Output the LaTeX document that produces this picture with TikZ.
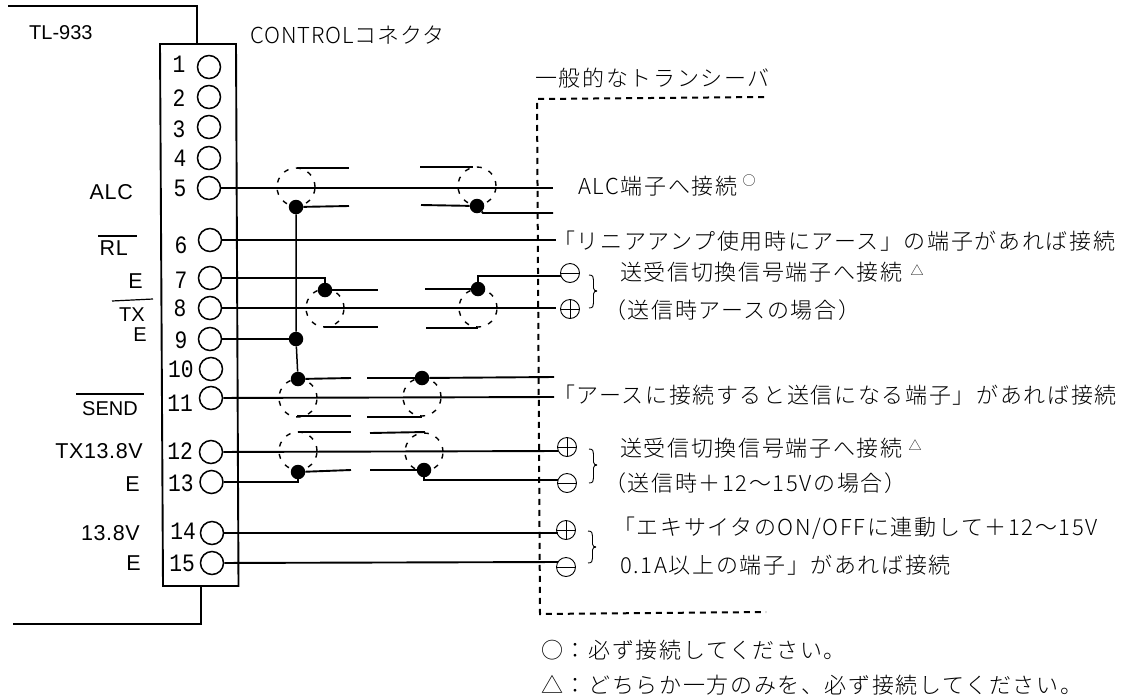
\documentclass[tikz,border=0pt]{standalone}
\usepackage{fontspec}
\setmainfont{Liberation Sans}
\newfontfamily\jpfont[LetterSpace=7.5]{Noto Sans CJK JP Light}
\newfontfamily\jpnarrow[LetterSpace=4]{Noto Sans CJK JP Light}
\newfontfamily\jpsmall{Noto Sans CJK JP Light}
\newfontfamily\pinfont{Liberation Mono}
\newfontfamily\latfont[LetterSpace=3]{Liberation Sans}
\newfontfamily\latplain{Liberation Sans}
% brace half: x, outer end y, tip y, direction (1 down, -1 up)
\newcommand{\rbr}[4]{%
  \draw[thin line] (#1,#2) .. controls (#1+4,#2) and (#1+4.5,#2+#4*2) .. (#1+4.5,#2+#4*5)
    -- (#1+4.5,#3-#4*3) .. controls (#1+4.5,#3-#4*1) and (#1+6,#3) .. (#1+8,#3);
}
\tikzset{
  wire/.style={line width=1.9pt},
  thin line/.style={line width=0.9pt},
  over/.style={line width=1.2pt},
  pin/.style={circle,draw,line width=1.5pt,minimum size=23pt,inner sep=0pt},
  dot/.style={circle,fill=black,minimum size=14.5pt,inner sep=0pt},
  shield/.style={circle,draw,line width=1.4pt,dash pattern=on 5pt off 7.5pt,minimum size=38pt,inner sep=0pt},
  termp/.style={circle,draw,line width=0.9pt,minimum size=19pt,inner sep=0pt,
    path picture={\draw[line width=0.9pt] (path picture bounding box.west) -- (path picture bounding box.east)
      (path picture bounding box.north) -- (path picture bounding box.south);}},
  termm/.style={circle,draw,line width=0.9pt,minimum size=19pt,inner sep=0pt,
    path picture={\draw[line width=0.9pt] (path picture bounding box.west) -- (path picture bounding box.east);}},
  jptext/.style={anchor=base west,inner sep=0pt,font=\fontsize{22}{24}\selectfont\jpfont},
  lat/.style={anchor=base east,inner sep=0pt,font=\fontsize{21.5}{23}\selectfont\latfont},
  latsm/.style={anchor=base east,inner sep=0pt,font=\fontsize{20}{22}\selectfont\latplain},
  digit/.style={inner sep=0pt,font=\fontsize{25}{27}\selectfont\pinfont},
  mini/.style={inner sep=0pt,font=\fontsize{13}{14}\selectfont\jpsmall},
  boxdash/.style={line width=2pt,dash pattern=on 6pt off 5pt},
}
\begin{document}
\begin{tikzpicture}[x=1pt,y=-1pt]
\useasboundingbox (0,0) rectangle (1129,697);
% enclosure and connector body
\coordinate (ct0) at (8,6); \coordinate (ct1) at (197,6); \coordinate (ct2) at (197,44);
\coordinate (cb0) at (13,624); \coordinate (cb1) at (201,624); \coordinate (cb2) at (201,586);
\draw[wire] (ct0) -- (ct1) -- (ct2);
\draw[wire] (cb0) -- (cb1) -- (cb2);
\draw[wire] (160,44) -- (236,44) -- (238.5,586) -- (163,586) -- cycle;
% pins
\foreach \n/\px/\py/\dx/\dy in {1/209/67/179/64,2/209/97/179/98,3/209/127/179/129,4/209/158/180/158,5/209/188/180/188,6/210/240/181/245,7/210/278/181/280,8/210/308/180/308,9/210/339/181/340,10/211/369/181/369,11/211/398/180/403,12/211/452/180/451,13/211.5/482/181/483,14/212/533/183/531,15/212/563/182/563}{
  \node[pin] (p\n) at (\px,\py) {};
  \node[digit] (n\n) at (\dx,\dy) {\scalebox{.85}[1]{\n}};
}
% shields
\node[shield] (sa) at (296,187) {};
\node[shield] (sb) at (325,308) {};
\node[shield] (sc) at (298,398) {};
\node[shield] (sd) at (298,451) {};
\node[shield] (ra) at (477,186) {};
\node[shield] (rb) at (478,308) {};
\node[shield] (rc) at (422,397) {};
\node[shield] (rd) at (424,452) {};
% junction dots
\node[dot] (da) at (296,207) {};
\node[dot] (db) at (325,290) {};
\node[dot] (dc) at (298,379) {};
\node[dot] (dd) at (298,472) {};
\node[dot] (dj) at (296,339) {};
\node[dot] (ea) at (477,206) {};
\node[dot] (eb) at (478,289) {};
\node[dot] (ec) at (422,378) {};
\node[dot] (ed) at (424,470) {};
% terminals
\node[termm] (t1) at (570,273) {};
\node[termp] (t2) at (570,309) {};
\node[termp] (t3) at (567,447) {};
\node[termm] (t4) at (567,483) {};
\node[termp] (t5) at (566,530) {};
\node[termm] (t6) at (566,567) {};
% free ends
\coordinate (e5) at (553,188);
\coordinate (e6) at (556,240);
\coordinate (e8) at (556,308);
\coordinate (e11) at (554,397);
\coordinate (e12) at (558,451);
\coordinate (e14) at (558,533);
\coordinate (e15) at (558,562);
\coordinate (ea2) at (553,213);
\coordinate (eb2) at (561,276);
\coordinate (ec2) at (554,377);
\coordinate (ed2) at (558,480);
% through wires
\draw[wire] (p5) -- (e5);
\draw[wire] (p6) -- (e6);
\draw[wire] (p8) -- (e8);
\draw[wire] (p11) -- (e11);
\draw[wire] (p12) -- (e12);
\draw[wire] (p14) -- (e14);
\draw[wire] (p15) -- (e15);
% shield stubs and drains
\draw[wire] (297,168) -- (349,168);
\draw[wire] (da) -- (349,206);
\draw[line width=1.5pt] (da) -- (dj) -- (dc);
\draw[wire] (p9) -- (dj);
\draw[wire] (p7) -- (325,278) -- (db);
\draw[wire] (db) -- (378,290);
\draw[wire] (324,327) -- (378,327);
\draw[wire] (dc) -- (351,378);
\draw[wire] (297,416) -- (351,416);
\draw[wire] (298,432) -- (351,432);
\draw[wire] (dd) -- (351,470);
\draw[wire] (p13) -- (298,482) -- (dd);
\draw[wire] (420,167) -- (473,167);
\draw[wire] (421,205) -- (ea);
\draw[wire] (ea) -- (483,213) -- (ea2);
\draw[wire] (425,289) -- (eb);
\draw[wire] (eb) -- (478,276) -- (eb2);
\draw[wire] (426,328) -- (478,328);
\draw[wire] (367,378) -- (ec);
\draw[wire] (ec) -- (ec2);
\draw[wire] (367,417) -- (422,417);
\draw[wire] (370,433) -- (425,432);
\draw[wire] (370,470) -- (ed);
\draw[wire] (ed) -- (424,480) -- (ed2);
% transceiver outline
\draw[boxdash] (764,97) -- (537,99) -- (540,614) -- (766,612);
% braces
\rbr{589}{275}{291}{1}
\rbr{589}{308}{291}{-1}
\rbr{589}{449}{465}{1}
\rbr{589}{483}{465}{-1}
\rbr{588}{531}{547}{1}
\rbr{588}{563}{547}{-1}
% left labels
\node[anchor=base west,inner sep=0pt,font=\fontsize{20}{22}\selectfont\latplain] (tl) at (29,39) {TL-933};
\node[lat] (lalc) at (133,199) {ALC};
\node[lat] (lrl) at (128,255) {RL};
\draw[over] (98,236) -- (137,236);
\node[lat] (le7) at (143,288) {E};
\node[latsm] (ltx) at (145,321) {TX};
\draw[over] (112,301) -- (153,299);
\node[latsm] (le9) at (147,341) {E};
\node[latsm] (lsend) at (138,415) {SEND};
\draw[over] (76,394) -- (144,394);
\node[lat] (ltx13) at (143,458) {TX13.8V};
\node[lat] (le13) at (140,491) {E};
\node[lat] (l138) at (140,540) {13.8V};
\node[lat] (le15) at (141,570) {E};
% Japanese text
\node[jptext,font=\fontsize{22}{24}\selectfont\jpnarrow] (a) at (250,43) {CONTROLコネクタ};
\node[jptext] (b) at (535,86) {一般的なトランシーバ};
\node[jptext] (c) at (578,194) {ALC端子へ接続};
\node[mini] (cm) at (749,181) {○};
\node[jptext] (d) at (553,249) {「リニアアンプ使用時にアース」の端子があれば接続};
\node[jptext] (e) at (620,280) {送受信切換信号端子へ接続};
\node[mini] (em) at (917,270) {△};
\node[jptext] (f) at (604,318) {（送信時アースの場合）};
\node[jptext] (g) at (553,403) {「アースに接続すると送信になる端子」があれば接続};
\node[jptext] (h) at (620,456) {送受信切換信号端子へ接続};
\node[mini] (hm) at (915,445) {△};
\node[jptext] (i) at (604,491) {（送信時＋12～15Vの場合）};
\node[jptext] (j) at (613,535) {「エキサイタのON/OFFに連動して＋12～15V};
\node[jptext] (k) at (620,573) {0.1A以上の端子」があれば接続};
\node[jptext] (l) at (541,658) {○：必ず接続してください。};
\node[jptext] (m) at (541,693) {△：どちらか一方のみを、必ず接続してください。};
\end{tikzpicture}
\end{document}
